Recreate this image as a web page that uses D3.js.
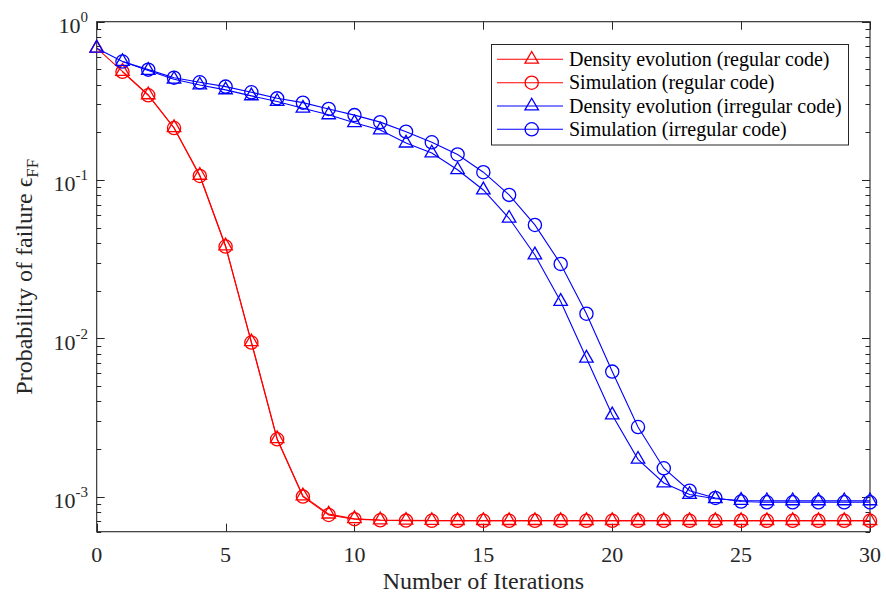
<!DOCTYPE html>
<html>
<head>
<meta charset="utf-8">
<script src="https://cdn.jsdelivr.net/npm/d3@7"></script>
</head>
<body style="margin:0;padding:0;background:#fff">
<svg id="chart" width="886" height="594" style="display:block;font-family:'Liberation Serif'"></svg>
<script>
// Iteration index for the density-evolution curves (start at 0)
const iterDE = [0,1,2,3,4,5,6,7,8,9,10,11,12,13,14,15,16,17,18,19,20,21,22,23,24,25,26,27,28,29,30];
// Iteration index for the simulated curves (start at 1)
const iterSim = [1,2,3,4,5,6,7,8,9,10,11,12,13,14,15,16,17,18,19,20,21,22,23,24,25,26,27,28,29,30];

const regularDE = [0.680, 0.485, 0.345, 0.214, 0.107, 0.0383, 0.00950, 0.00232, 0.00101, 0.000775,
  0.000725, 0.000712, 0.000708, 0.000706, 0.000705, 0.000705, 0.000705, 0.000705, 0.000705, 0.000705,
  0.000705, 0.000705, 0.000705, 0.000705, 0.000705, 0.000705, 0.000705, 0.000705, 0.000705, 0.000705, 0.000705];
const regularSim = [0.482, 0.343, 0.213, 0.106, 0.0380, 0.00940, 0.00230, 0.00100, 0.000765,
  0.000720, 0.000708, 0.000705, 0.000703, 0.000703, 0.000703, 0.000703, 0.000703, 0.000703, 0.000703,
  0.000703, 0.000703, 0.000703, 0.000703, 0.000703, 0.000703, 0.000703, 0.000703, 0.000703, 0.000703, 0.000703];
const irregularDE = [0.680, 0.560, 0.492, 0.433, 0.398, 0.371, 0.340, 0.313, 0.284, 0.258,
  0.230, 0.207, 0.171, 0.148, 0.116, 0.0865, 0.0573, 0.0336, 0.0171, 0.00749,
  0.00328, 0.00172, 0.00122, 0.00103, 0.00097, 0.000945, 0.00094, 0.00094, 0.00094, 0.00094, 0.00094];
const irregularSim = [0.560, 0.498, 0.443, 0.414, 0.389, 0.358, 0.328, 0.308, 0.281, 0.257,
  0.232, 0.202, 0.173, 0.145, 0.112, 0.0805, 0.0520, 0.0295, 0.0143, 0.00616,
  0.00275, 0.00151, 0.00109, 0.00098, 0.00093, 0.00092, 0.00092, 0.00092, 0.00092, 0.00092];

const xTicks = [0, 5, 10, 15, 20, 25, 30];
const yMajorExp = [0, -1, -2, -3];
const legendLabels = [
  "Density evolution (regular code)",
  "Simulation (regular code)",
  "Density evolution (irregular code)",
  "Simulation (irregular code)"
];

const series = [
  { x: iterDE,  y: regularDE,    color: "#ff0000", marker: "tri" },
  { x: iterSim, y: regularSim,   color: "#ff0000", marker: "circ" },
  { x: iterDE,  y: irregularDE,  color: "#0000ff", marker: "tri" },
  { x: iterSim, y: irregularSim, color: "#0000ff", marker: "circ" }
];

const FONT = "'Liberation Serif'";
const svg = d3.select("#chart");
const L = 96.7, R = 870, T = 21.7, B = 531.7;
const axisColor = "#262626";

const x = d3.scaleLinear().domain([0, 30]).range([L, R]);
const y = d3.scaleLog().domain([6e-4, 1]).range([B, T]);

// Minor log ticks within the visible range
const minorVals = [];
[-4, -3, -2, -1].forEach(e => { for (let m = 2; m <= 9; m++) { const v = m * Math.pow(10, e); if (v >= 6e-4 && v < 1) minorVals.push(v); } });

const tickG = svg.append("g").attr("stroke", axisColor).attr("stroke-width", 1);
minorVals.forEach(v => {
  const yy = Math.round(y(v)) + 0.5;
  tickG.append("line").attr("x1", L).attr("x2", L + 4.5).attr("y1", yy).attr("y2", yy);
  tickG.append("line").attr("x1", R).attr("x2", R - 4.5).attr("y1", yy).attr("y2", yy);
});
yMajorExp.forEach(e => {
  const yy = Math.round(y(Math.pow(10, e))) + 0.5;
  tickG.append("line").attr("x1", L).attr("x2", L + 8).attr("y1", yy).attr("y2", yy);
  tickG.append("line").attr("x1", R).attr("x2", R - 8).attr("y1", yy).attr("y2", yy);
});
xTicks.forEach(t => {
  const xx = Math.round(x(t)) + 0.5;
  tickG.append("line").attr("x1", xx).attr("x2", xx).attr("y1", B).attr("y2", B - 8);
  tickG.append("line").attr("x1", xx).attr("x2", xx).attr("y1", T).attr("y2", T + 8);
});

// Axis box
svg.append("rect").attr("x", L).attr("y", T).attr("width", R - L).attr("height", B - T)
  .attr("fill", "none").attr("stroke", axisColor).attr("stroke-width", 1.1);

// X tick labels
svg.append("g").selectAll("text").data(xTicks).join("text")
  .attr("x", d => x(d)).attr("y", 562)
  .attr("text-anchor", "middle").attr("font-size", 22)
  .style("font-family", FONT).attr("fill", axisColor)
  .text(d => d);

// Y tick labels with superscript exponents
const yl = svg.append("g").selectAll("text").data(yMajorExp).join("text")
  .attr("x", 88).attr("y", d => y(Math.pow(10, d)) + 11.5)
  .attr("text-anchor", "end").attr("font-size", 22)
  .style("font-family", FONT).attr("fill", axisColor);
yl.append("tspan").text("10");
yl.append("tspan").attr("font-size", 15).attr("dy", -11).text(d => d === 0 ? "0" : "-" + Math.abs(d));

// Axis titles
svg.append("text").attr("x", (L + R) / 2).attr("y", 589)
  .attr("text-anchor", "middle").attr("font-size", 24)
  .style("font-family", FONT).attr("fill", axisColor)
  .text("Number of Iterations");

const yt = svg.append("text")
  .attr("transform", `translate(32,${(T + B) / 2}) rotate(-90)`)
  .attr("text-anchor", "middle").attr("font-size", 24)
  .style("font-family", FONT).attr("fill", axisColor);
yt.append("tspan").text("Probability of failure \u03F5");
yt.append("tspan").attr("font-size", 17).attr("dy", 6).text("FF");

// Marker shapes
function markerPath(type, cx, cy) {
  if (type === "tri") {
    const r = 7.8;
    return `M${cx},${cy - r}L${cx + r * 0.866},${cy + r * 0.5}L${cx - r * 0.866},${cy + r * 0.5}Z`;
  }
  const r = 6.6;
  return `M${cx + r},${cy}A${r},${r} 0 1,1 ${cx - r},${cy}A${r},${r} 0 1,1 ${cx + r},${cy}Z`;
}

const line = d3.line().x(d => x(d[0])).y(d => y(d[1]));
const plotG = svg.append("g");
series.forEach(s => {
  const pts = s.x.map((xv, i) => [xv, s.y[i]]);
  plotG.append("path").attr("d", line(pts)).attr("fill", "none")
    .attr("stroke", s.color).attr("stroke-width", 1.1);
  plotG.append("g").selectAll("path").data(pts).join("path")
    .attr("d", d => markerPath(s.marker, x(d[0]), y(d[1])))
    .attr("fill", "none").attr("stroke", s.color).attr("stroke-width", 1.3);
});

// Legend
const lg = svg.append("g");
lg.append("rect").attr("x", 491.5).attr("y", 44.5).attr("width", 357).attr("height", 100.5)
  .attr("fill", "#fff").attr("stroke", axisColor).attr("stroke-width", 1);
const rowY = [59.3, 82.7, 106, 129.3];
series.forEach((s, i) => {
  const yy = rowY[i];
  lg.append("line").attr("x1", 497).attr("x2", 563).attr("y1", yy).attr("y2", yy)
    .attr("stroke", s.color).attr("stroke-width", 1.1);
  lg.append("path").attr("d", markerPath(s.marker, 531.7, yy))
    .attr("fill", "none").attr("stroke", s.color).attr("stroke-width", 1.3);
  lg.append("text").attr("x", 569).attr("y", yy + 6.5).attr("font-size", 20)
    .style("font-family", FONT).attr("fill", "#000")
    .text(legendLabels[i]);
});
</script>
</body>
</html>
